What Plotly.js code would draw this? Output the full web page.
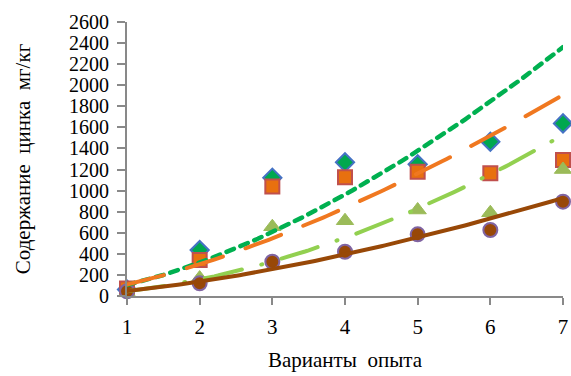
<!DOCTYPE html>
<html>
<head>
<meta charset="utf-8">
<script src="https://cdn.plot.ly/plotly-3.0.1.min.js"></script>
<style>
html, body { margin: 0; padding: 0; background: #fff; }
#chart { width: 571px; height: 376px; }
.scatterlayer .js-line { stroke-linecap: round; }
</style>
</head>
<body>
<div id="chart"></div>
<script>
// Data
const variants = [1, 2, 3, 4, 5, 6, 7];
const seriesDiamond  = [62, 436, 1122, 1268, 1250, 1464, 1638];
const seriesSquare   = [70, 342, 1040, 1126, 1180, 1164, 1290];
const seriesTriangle = [30, 170, 657, 714, 816, 790, 1200];
const seriesCircle   = [45, 120, 325, 420, 585, 626, 895];
const yTickVals = [0,200,400,600,800,1000,1200,1400,1600,1800,2000,2200,2400,2600];
const xTickVals = [1,2,3,4,5,6,7];
const xTitle = 'Варианты  опыта';
const yTitle = 'Содержание  цинка  мг/кг';

// Power trendline (least squares on ln x, ln y), like a spreadsheet trendline
function powerTrend(xs, ys) {
  const lx = xs.map(Math.log), ly = ys.map(Math.log);
  const n = xs.length;
  const mx = lx.reduce((a, b) => a + b, 0) / n;
  const my = ly.reduce((a, b) => a + b, 0) / n;
  let sxy = 0, sxx = 0;
  for (let i = 0; i < n; i++) { sxy += (lx[i] - mx) * (ly[i] - my); sxx += (lx[i] - mx) ** 2; }
  const b = sxy / sxx, a = Math.exp(my - b * mx);
  const tx = [], ty = [];
  const x0 = xs[0], x1 = xs[xs.length - 1];
  for (let k = 0; k <= 120; k++) { const x = x0 + (x1 - x0) * k / 120; tx.push(x); ty.push(a * Math.pow(x, b)); }
  return { x: tx, y: ty };
}

const serif = '"Liberation Serif", "Times New Roman", serif';

function markers(y, symbol, size, fill, lineColor, lineWidth) {
  return { x: variants, y: y, type: 'scatter', mode: 'markers', cliponaxis: false,
    marker: { symbol: symbol, size: size, color: fill, line: { color: lineColor, width: lineWidth } },
    hoverinfo: 'x+y', showlegend: false };
}
function trend(y, color, width, dash) {
  const t = powerTrend(variants, y);
  return { x: t.x, y: t.y, type: 'scatter', mode: 'lines', cliponaxis: false,
    line: { color: color, width: width, dash: dash }, hoverinfo: 'skip', showlegend: false };
}

const data = [
  markers(seriesDiamond, 'diamond', 14, '#00A84F', '#4472C4', 2),
  markers(seriesSquare, 'square', 14, '#E8700F', '#C0504D', 2),
  markers(seriesTriangle, 'triangle-up', 15, '#9BBB59', '#9BBB59', 1),
  markers(seriesCircle, 'circle', 14, '#984807', '#8064A2', 2),
  trend(seriesDiamond, '#00B050', 4.5, '8px,7px'),
  trend(seriesSquare, '#F07820', 4, '38px,24px'),
  trend(seriesTriangle, '#92D050', 4, '38px,20px,1px,20px'),
  trend(seriesCircle, '#984807', 4, 'solid')
];

const layout = {
  width: 571, height: 376,
  margin: { l: 127, r: 8, t: 22, b: 80 },
  paper_bgcolor: '#ffffff', plot_bgcolor: '#ffffff',
  showlegend: false,
  font: { family: serif, color: '#000000', size: 20 },
  xaxis: {
    range: [1, 7], tickvals: xTickVals, ticktext: xTickVals.map(String),
    showgrid: false, zeroline: false, showline: true, linecolor: '#898989', linewidth: 2,
    ticks: 'outside', ticklen: 7, tickwidth: 2, tickcolor: '#898989', ticklabelstandoff: 4,
    tickfont: { family: serif, size: 21, color: '#000' },
    title: { text: xTitle, font: { family: serif, size: 21, color: '#000' }, standoff: 14 },
    automargin: false, fixedrange: true
  },
  yaxis: {
    range: [0, 2600], tickvals: yTickVals, ticktext: yTickVals.map(String),
    showgrid: false, zeroline: false, showline: true, linecolor: '#898989', linewidth: 2,
    ticks: 'outside', ticklen: 8, tickwidth: 2, tickcolor: '#898989', ticklabelstandoff: 4,
    tickfont: { family: serif, size: 20, color: '#000' },
    title: { text: yTitle, font: { family: serif, size: 21, color: '#000' }, standoff: 33 },
    automargin: false, fixedrange: true
  }
};

Plotly.newPlot('chart', data, layout, { displayModeBar: false, staticPlot: true });
</script>
</body>
</html>
